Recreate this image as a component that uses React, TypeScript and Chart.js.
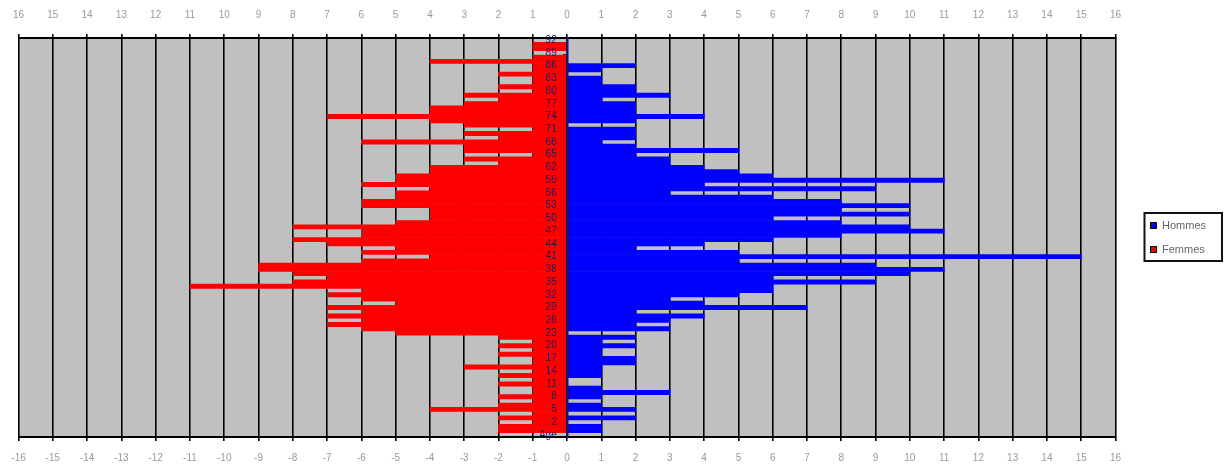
import React, { useEffect, useRef } from 'react';
import { Chart, registerables } from 'chart.js';

Chart.register(...registerables);

// Categories, bottom to top (first category is drawn at the bottom)
const AGE_CATEGORIES = [
  'Age', '0', '1', '2', '3', '4', '5', '6', '7', '8', '9',
  '10', '11', '12', '13', '14', '15', '16', '17', '18', '19',
  '20', '21', '22', '23', '24', '25', '26', '27', '28', '29',
  '30', '31', '32', '33', '34', '35', '36', '37', '38', '39',
  '40', '41', '42', '43', '44', '45', '46', '47', '48', '49',
  '50', '51', '52', '53', '54', '55', '56', '57', '58', '59',
  '60', '61', '62', '63', '64', '65', '66', '67', '68', '69',
  '70', '71', '72', '73', '74', '75', '76', '77', '78', '79',
  '80', '81', '82', '83', '84', '85', '86', '87', '88', '89',
  '90', '91', '92',
];

const SERIES_NAMES = ['Hommes', 'Femmes'];

// Counts per category (same order as AGE_CATEGORIES)
const HOMMES = [
  0, 1, 1, 0, 2, 0, 2, 1, 0, 1,
  3, 1, 0, 0, 1, 1, 1, 2, 2, 1,
  1, 2, 1, 2, 0, 3, 2, 3, 4, 2,
  7, 4, 3, 5, 6, 6, 9, 6, 10, 11,
  9, 5, 15, 5, 2, 4, 6, 8, 11, 10,
  8, 6, 10, 8, 10, 8, 6, 3, 9, 4,
  11, 6, 5, 4, 3, 3, 2, 5, 2, 1,
  2, 2, 2, 0, 2, 4, 2, 2, 2, 1,
  3, 2, 2, 1, 1, 0, 1, 2, 0, 0,
  0, 0, 0, 0,
];

const FEMMES = [
  0, 2, 2, 1, 2, 1, 4, 2, 1, 2,
  1, 1, 2, 1, 2, 1, 3, 1, 1, 2,
  1, 2, 1, 2, 5, 6, 7, 6, 7, 6,
  7, 5, 6, 7, 6, 11, 8, 7, 8, 9,
  9, 6, 4, 6, 5, 7, 8, 6, 6, 8,
  5, 4, 4, 4, 6, 6, 5, 5, 4, 6,
  5, 5, 4, 4, 2, 3, 1, 3, 3, 6,
  2, 3, 1, 3, 4, 7, 4, 4, 3, 2,
  3, 1, 2, 1, 1, 2, 1, 1, 4, 1,
  0, 1, 1, 0,
];

const X_MIN = -16;
const X_MAX = 16;
const X_STEP = 1;

const plotBackground = {
  id: 'plotBackground',
  beforeDraw(chart: any) {
    const { ctx, chartArea: a } = chart;
    ctx.save();
    ctx.fillStyle = '#c0c0c0';
    ctx.fillRect(a.left, a.top, a.right - a.left, a.bottom - a.top);
    ctx.restore();
  },
};

const legendFrame = {
  id: 'legendFrame',
  afterDraw(chart: any) {
    const boxes = chart.legend && chart.legend.legendHitBoxes;
    if (!boxes || !boxes.length) return;
    let l = Infinity, t = Infinity, r = -Infinity, b = -Infinity;
    boxes.forEach((h: any) => {
      l = Math.min(l, h.left);
      t = Math.min(t, h.top);
      r = Math.max(r, h.left + h.width);
      b = Math.max(b, h.top + h.height);
    });
    const { ctx } = chart;
    ctx.save();
    ctx.strokeStyle = '#111';
    ctx.lineWidth = 2;
    ctx.strokeRect(l - 6, t - 7, r - l + 22, b - t + 13);
    ctx.restore();
  },
};

export default function App() {
  const canvasRef = useRef<HTMLCanvasElement | null>(null);

  useEffect(() => {
    if (!canvasRef.current) return;
    const tickFont = { family: 'Liberation Sans', size: 10 };
    const chart = new Chart(canvasRef.current, {
      type: 'bar',
      data: {
        labels: AGE_CATEGORIES,
        datasets: [
          {
            label: SERIES_NAMES[0],
            data: HOMMES,
            backgroundColor: '#0000ff',
            borderWidth: 0,
            barPercentage: 1,
            categoryPercentage: 1,
          },
          {
            label: SERIES_NAMES[1],
            data: FEMMES.map((v) => -v),
            backgroundColor: '#ff0000',
            borderWidth: 0,
            barPercentage: 1,
            categoryPercentage: 1,
          },
        ],
      },
      options: {
        indexAxis: 'y',
        animation: false,
        responsive: true,
        maintainAspectRatio: false,
        layout: { padding: { left: 17, right: 12, top: 0, bottom: 0 } },
        plugins: {
          tooltip: { enabled: false },
          legend: {
            position: 'right',
            fullSize: false,
            labels: {
              boxWidth: 6,
              boxHeight: 6,
              padding: 13,
              color: '#666',
              font: { family: 'Liberation Sans', size: 11 },
              generateLabels: (c: any) =>
                (Chart.defaults.plugins.legend.labels.generateLabels as any)(c).map((it: any) => ({
                  ...it,
                  strokeStyle: '#000',
                  lineWidth: 1,
                })),
            },
          },
        },
        scales: {
          x: {
            type: 'linear',
            position: 'bottom',
            stacked: true,
            min: X_MIN,
            max: X_MAX,
            ticks: {
              stepSize: X_STEP,
              autoSkip: false,
              maxRotation: 0,
              padding: 11,
              color: '#999',
              font: tickFont,
              callback: (v: any) => String(v),
            },
            grid: { color: '#000', lineWidth: 1.6, tickLength: 4, drawTicks: true },
            border: { display: true, color: '#000', width: 2 },
            afterFit: (s: any) => { s.height = 33; },
          },
          x2: {
            type: 'linear',
            position: 'top',
            min: X_MIN,
            max: X_MAX,
            ticks: {
              stepSize: X_STEP,
              autoSkip: false,
              maxRotation: 0,
              padding: 13,
              color: '#999',
              font: tickFont,
              callback: (v: any) => String(Math.abs(v)),
            },
            grid: { drawOnChartArea: false, color: '#000', lineWidth: 1.6, tickLength: 4 },
            border: { display: true, color: '#000', width: 2 },
            afterFit: (s: any) => { s.height = 38; },
          },
          y: {
            type: 'category',
            reverse: true,
            stacked: true,
            position: { x: 0 } as any,
            ticks: { display: false },
            grid: { display: true, drawOnChartArea: false, tickLength: 3, color: '#2b145e' },
            border: { display: true, color: '#1b1464', width: 2.5, z: 1 },
          },
          yLabels: {
            type: 'category',
            axis: 'y',
            reverse: true,
            offset: true,
            position: { x: -0.3 } as any,
            ticks: {
              autoSkip: true,
              autoSkipPadding: 0,
              padding: 0,
              color: '#2a0f55',
              font: { family: 'Liberation Sans', size: 10 },
              z: 1,
            },
            grid: { display: false },
            border: { display: false },
          },
          spacer: {
            type: 'linear',
            position: 'right',
            display: true,
            ticks: { display: false },
            grid: { display: false },
            border: { display: false },
            afterFit: (s: any) => { s.width = 22; },
          },
        },
      } as any,
      plugins: [plotBackground, legendFrame],
    });
    return () => chart.destroy();
  }, []);

  return (
    <div style={{ position: 'fixed', left: 0, top: 0, width: 1228, height: 470, background: '#fff' }}>
      <canvas ref={canvasRef} />
    </div>
  );
}
